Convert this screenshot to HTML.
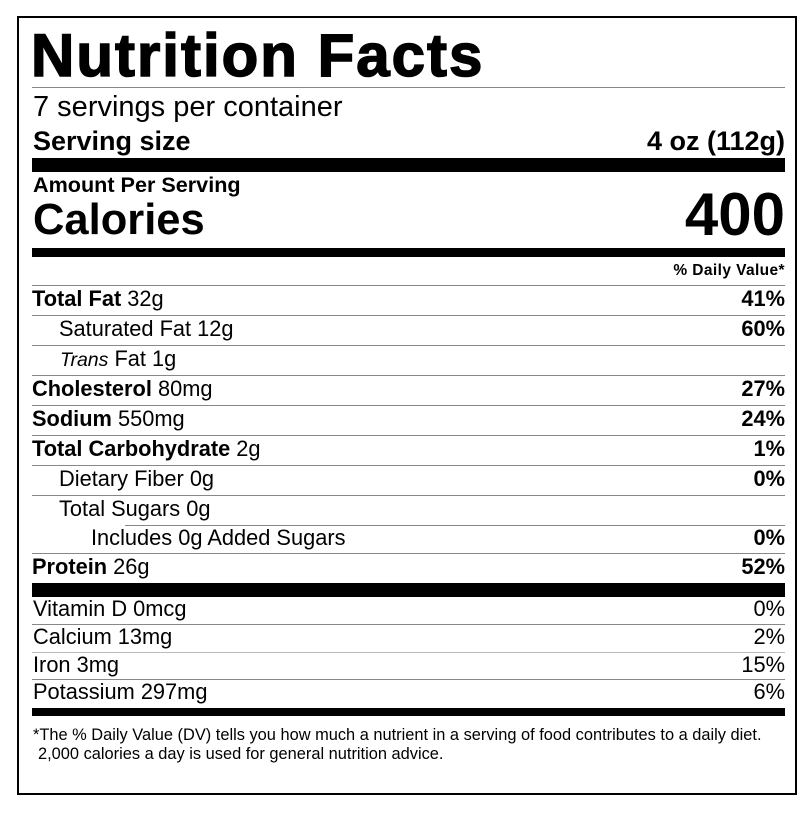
<!DOCTYPE html>
<html><head><meta charset="utf-8"><style>
*{margin:0;padding:0;box-sizing:border-box}
body{width:812px;height:813px;background:#fff;position:relative;font-family:"Liberation Sans",Arial,sans-serif;color:#000;overflow:hidden}
.box{position:absolute;left:17px;top:16px;width:780px;height:779px;border:2px solid #000}
.t{position:absolute;white-space:nowrap;line-height:1}
.r{right:27px;text-align:right}
.row{font-size:21.8px;margin-top:-1px}
.hl{position:absolute;left:32px;width:753px;height:1px;background:#888}
.bar{position:absolute;left:32px;width:753px;background:#000}
b{font-weight:bold}
</style></head><body>
<div class="box"></div>
<div class="t" style="left:31px;top:26px;font-size:60px;font-weight:bold;letter-spacing:2px;-webkit-text-stroke:1.5px #000">Nutrition Facts</div>
<div class="hl" style="top:87px"></div>
<div class="t" style="left:33px;top:93px;font-size:29px">7 servings per container</div>
<div class="t" style="left:33px;top:128px;font-size:27px;font-weight:bold">Serving size</div>
<div class="t r" style="top:128px;font-size:27px;font-weight:bold">4 oz (112g)</div>
<div class="bar" style="top:158px;height:14px"></div>
<div class="t" style="left:33px;top:174px;font-size:21.6px;font-weight:bold">Amount Per Serving</div>
<div class="t" style="left:33px;top:199px;font-size:43.5px;font-weight:bold">Calories</div>
<div class="t r" style="top:185px;font-size:60px;font-weight:bold">400</div>
<div class="bar" style="top:248px;height:9px"></div>
<div class="t r" style="top:263px;font-size:15.5px;font-weight:bold;letter-spacing:0.4px">% Daily Value*</div>
<div class="hl" style="top:285px"></div>

<div class="t row" style="left:32px;top:289px"><b>Total Fat</b> 32g</div><div class="t r row" style="top:289px;font-weight:bold">41%</div>
<div class="hl" style="top:315px"></div>
<div class="t row" style="left:59px;top:319px">Saturated Fat 12g</div><div class="t r row" style="top:319px;font-weight:bold">60%</div>
<div class="hl" style="top:345px"></div>
<div class="t row" style="left:60px;top:349px"><i style="font-size:19.5px">Trans</i> Fat 1g</div>
<div class="hl" style="top:375px"></div>
<div class="t row" style="left:32px;top:379px"><b>Cholesterol</b> 80mg</div><div class="t r row" style="top:379px;font-weight:bold">27%</div>
<div class="hl" style="top:405px"></div>
<div class="t row" style="left:32px;top:409px"><b>Sodium</b> 550mg</div><div class="t r row" style="top:409px;font-weight:bold">24%</div>
<div class="hl" style="top:435px"></div>
<div class="t row" style="left:32px;top:439px"><b>Total Carbohydrate</b> 2g</div><div class="t r row" style="top:439px;font-weight:bold">1%</div>
<div class="hl" style="top:465px"></div>
<div class="t row" style="left:59px;top:469px">Dietary Fiber 0g</div><div class="t r row" style="top:469px;font-weight:bold">0%</div>
<div class="hl" style="top:495px"></div>
<div class="t row" style="left:59px;top:499px">Total Sugars 0g</div>
<div class="hl" style="top:525px;left:125px;width:660px"></div>
<div class="t row" style="left:91px;top:528px">Includes 0g Added Sugars</div><div class="t r row" style="top:528px;font-weight:bold">0%</div>
<div class="hl" style="top:553px"></div>
<div class="t row" style="left:32px;top:557px"><b>Protein</b> 26g</div><div class="t r row" style="top:557px;font-weight:bold">52%</div>
<div class="bar" style="top:583px;height:14px"></div>

<div class="t row" style="left:33px;top:599px">Vitamin D 0mcg</div><div class="t r row" style="top:599px">0%</div>
<div class="hl" style="top:624px"></div>
<div class="t row" style="left:33px;top:627px">Calcium 13mg</div><div class="t r row" style="top:627px">2%</div>
<div class="hl" style="top:652px;background:#bbb"></div>
<div class="t row" style="left:33px;top:655px">Iron 3mg</div><div class="t r row" style="top:655px">15%</div>
<div class="hl" style="top:679px"></div>
<div class="t row" style="left:33px;top:682px">Potassium 297mg</div><div class="t r row" style="top:682px">6%</div>
<div class="bar" style="top:708px;height:8px"></div>
<div class="t" style="left:33px;top:727px;font-size:16.4px">*The % Daily Value (DV) tells you how much a nutrient in a serving of food contributes to a daily diet.</div>
<div class="t" style="left:38px;top:746px;font-size:16.4px">2,000 calories a day is used for general nutrition advice.</div>
</body></html>
